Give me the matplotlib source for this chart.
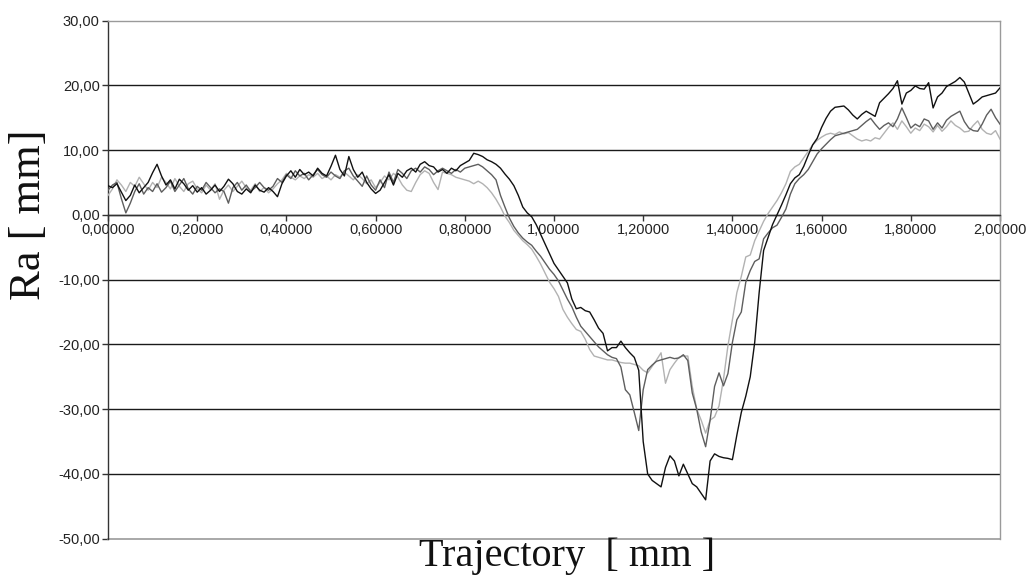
import numpy as np
import matplotlib
matplotlib.use("Agg")
import matplotlib.pyplot as plt
from matplotlib.ticker import FuncFormatter

# trajectory positions [mm]
x_start, x_stop, x_step = 0.0, 2.0, 0.01

# series 1 (black)
ra_black = [
    4.5, 4.2, 4.8, 3.5, 2.2, 3.0, 4.6, 3.4, 4.2, 5.0,
    6.5, 7.8, 6.0, 4.6, 5.4, 4.0, 5.5, 4.8, 3.8, 4.5,
    3.5, 4.2, 3.2, 3.8, 4.6, 3.6, 4.4, 5.5, 4.8, 3.6,
    3.2, 4.0, 3.4, 4.6, 3.8, 3.5, 4.2, 3.6, 2.8, 4.8,
    6.0, 6.8, 5.8, 7.0, 6.2, 6.6, 6.0, 7.2, 6.4, 6.0,
    7.5, 9.2, 7.0, 6.0, 9.0, 7.0, 5.8, 6.6, 5.0, 4.0,
    3.3, 3.8, 5.0, 6.2, 4.6, 6.4, 5.8, 6.8, 7.2, 6.6,
    7.8, 8.2, 7.6, 7.4, 6.6, 7.0, 6.4, 7.2, 6.8, 7.6,
    8.0, 8.4, 9.5, 9.3, 9.0, 8.5, 8.2, 7.8, 7.2, 6.3,
    5.5, 4.5, 3.0, 1.2, 0.3, -0.3, -1.5, -3.0, -4.5, -6.0,
    -7.5, -8.5, -9.5, -10.5, -13.0, -14.5, -14.3, -14.8, -15.0, -16.2,
    -17.5, -18.3, -21.0, -20.5, -20.5, -19.5, -20.5, -21.3, -22.0, -24.0,
    -35.0, -40.0, -41.0, -41.5, -42.0, -39.0, -37.2, -38.0, -40.3, -38.5,
    -40.0, -41.5, -42.0, -43.0, -44.0, -38.0, -36.9, -37.3, -37.5, -37.6,
    -37.8, -34.0, -30.5, -28.0, -25.0, -19.7, -12.0, -5.5, -3.5, -1.5,
    0.0, 1.5, 3.1, 4.8, 5.7, 6.2, 7.5, 9.2, 10.8, 11.8,
    13.5, 14.9, 16.0, 16.6, 16.7, 16.8, 16.2, 15.4, 14.8, 15.5,
    16.0, 15.6, 15.2, 17.3, 18.0, 18.7, 19.5, 20.7, 17.1, 18.8,
    19.2, 19.9, 19.5, 19.4, 20.4, 16.5, 18.2, 18.8, 19.8, 20.2,
    20.6, 21.2, 20.5, 18.8, 17.1, 17.6, 18.2, 18.4, 18.6, 18.8,
    19.6,
]

# series 2 (dark grey)
ra_dark = [
    3.8, 4.6, 5.0, 2.5, 0.3, 1.8, 3.6, 4.8, 3.2, 4.2,
    3.6, 4.8, 3.5, 4.2, 5.2, 3.6, 4.6, 5.6, 4.0, 3.2,
    4.4, 3.8, 5.0, 4.2, 3.4, 4.0, 3.6, 1.8, 4.2, 5.0,
    3.8, 4.6, 3.6, 4.2, 5.0, 4.2, 3.8, 4.4, 5.6, 5.0,
    6.2, 5.6, 6.8, 6.0, 6.4, 5.4, 6.2, 7.0, 6.2, 5.8,
    6.6, 6.0, 5.6, 6.8, 7.2, 6.0, 5.2, 4.4, 6.0, 4.6,
    3.8, 5.4, 4.2, 6.6, 5.0, 7.0, 6.4, 5.6, 6.8, 7.2,
    6.6, 7.4, 7.0, 6.2, 6.8, 7.2, 6.8, 6.4, 7.0, 6.6,
    7.2, 7.4, 7.6, 7.8, 7.4, 6.8, 6.2, 5.4, 3.0, 1.2,
    -0.5, -1.8, -2.8, -3.6, -4.2, -4.7, -5.6, -6.4, -7.4, -8.4,
    -9.2, -10.2, -11.6, -13.0, -14.2, -15.8, -17.2, -18.0, -18.8, -19.6,
    -20.4, -21.0, -21.6, -22.0, -22.2, -23.5, -27.0, -27.8, -30.5, -33.3,
    -27.0, -23.9, -23.2, -22.6, -22.4, -22.2, -22.0, -22.2, -22.1, -21.6,
    -22.5, -27.5, -30.0, -33.5, -35.8, -31.7, -26.5, -24.4, -26.4, -24.5,
    -19.7, -16.2, -15.0, -10.4, -8.6, -7.2, -6.8, -3.7, -2.8, -2.0,
    -1.6, -0.4, 0.9, 3.2, 4.8, 5.6, 6.2, 7.0, 8.2, 9.4,
    10.2, 10.9, 11.6, 12.2, 12.4, 12.6, 12.8, 13.0, 13.2, 13.8,
    14.4, 14.9, 14.0, 13.2, 13.8, 14.2, 13.6, 14.8, 16.5, 15.0,
    13.4, 14.0, 13.6, 14.8, 14.5, 13.2, 14.2, 13.4, 14.6, 15.2,
    15.6, 16.0, 14.4, 13.4, 13.0, 12.9, 14.0, 15.4, 16.3, 15.0,
    14.0,
]

# series 3 (light grey)
ra_light = [
    3.0, 4.0, 5.4, 4.6, 3.6, 5.0, 4.4, 5.8, 4.8, 3.8,
    5.0, 4.2, 5.8, 5.0, 4.0, 5.6, 4.4, 3.6, 4.8, 5.2,
    4.0, 3.4, 4.6, 3.8, 4.8, 2.4, 3.8, 4.6, 3.6, 4.4,
    5.2, 4.2, 3.8, 4.8, 3.6, 4.2, 3.4, 4.0, 4.8, 5.4,
    6.4, 5.8, 5.4, 6.0, 5.6, 6.2, 5.8, 6.4, 5.6, 6.0,
    5.4, 6.2, 5.8, 6.6, 6.0, 5.4, 6.2, 5.6, 4.8, 5.4,
    4.2, 5.0, 6.0, 5.4, 6.4, 5.8, 4.6, 3.8, 3.6, 5.0,
    6.2, 6.8, 6.4, 5.0, 3.9, 6.6, 6.4, 6.2, 5.8, 5.6,
    5.4, 5.2, 4.8, 5.2, 4.8, 4.2, 3.4, 2.4, 1.2, -0.2,
    -1.2, -2.4, -3.2, -4.0, -4.6, -5.3, -6.4, -7.6, -9.0, -10.4,
    -11.4, -12.6, -14.6, -15.8, -16.8, -17.7, -18.0, -19.2, -20.8, -21.8,
    -22.0, -22.2, -22.4, -22.4, -22.6, -22.8, -22.9, -22.9, -23.1, -23.3,
    -24.0, -24.4, -23.4, -22.4, -21.3, -26.0, -23.9, -22.9, -22.0, -21.8,
    -21.8, -26.5, -30.0, -31.7, -33.7, -31.7, -31.2, -29.5, -25.4, -20.2,
    -16.2, -12.0, -9.5, -6.5, -6.2, -4.0, -2.5, -1.0, 0.2, 1.2,
    2.2, 3.4, 4.8, 6.7, 7.4, 7.8, 8.8, 9.8, 10.8, 11.5,
    12.0, 12.4, 12.6, 12.4, 12.8, 12.5, 12.7, 12.2, 11.7, 11.4,
    11.6, 11.4, 11.9, 11.7, 12.6, 13.5, 14.2, 13.2, 14.5, 13.6,
    12.6, 13.4, 13.0, 14.0, 13.6, 12.8, 13.8, 12.9, 13.6, 14.5,
    13.8, 13.4, 12.8, 12.9, 13.8, 14.5, 13.2, 12.6, 12.4, 13.0,
    11.7,
]

y_ticks = [-50, -40, -30, -20, -10, 0, 10, 20, 30]
x_ticks = [0.0, 0.2, 0.4, 0.6, 0.8, 1.0, 1.2, 1.4, 1.6, 1.8, 2.0]

x = np.round(np.arange(len(ra_black)) * x_step + x_start, 4)

fig = plt.figure(figsize=(10.28, 5.76), dpi=100)
W, H = 1028, 576
L, R, T, B = 108, 1000, 20.5, 538.7
ax = fig.add_axes([L / W, 1 - B / H, (R - L) / W, (B - T) / H])

ax.set_xlim(x_start, x_stop)
ax.set_ylim(-50, 30)

# horizontal gridlines
for yv in y_ticks:
    if yv in (-50, 30):
        continue
    ax.axhline(yv, color="#1a1a1a", lw=1.0, zorder=1)

ax.plot(x, ra_light, color="#b2b2b2", lw=1.0, zorder=3)
ax.plot(x, ra_dark, color="#5e5e5e", lw=1.0, zorder=4)
ax.plot(x, ra_black, color="#111111", lw=1.0, zorder=5)

# spines
for s in ("top", "right"):
    ax.spines[s].set_color("#9a9a9a")
    ax.spines[s].set_linewidth(1.0)
ax.spines["left"].set_color("#333333")
ax.spines["left"].set_linewidth(1.0)
ax.spines["bottom"].set_position(("data", 0))
ax.spines["bottom"].set_color("#333333")
ax.spines["bottom"].set_linewidth(1.0)
ax.axhline(-50, color="#9a9a9a", lw=1.2, zorder=2, clip_on=False)

ax.set_yticks(y_ticks)
ax.set_xticks(x_ticks)
ax.yaxis.set_major_formatter(FuncFormatter(lambda v, p: f"{v:.2f}".replace(".", ",")))
ax.xaxis.set_major_formatter(FuncFormatter(lambda v, p: f"{v:.5f}".replace(".", ",")))
ax.tick_params(axis="both", direction="out", length=4, width=1, color="#333333",
               labelsize=10.5, labelcolor="#222222", pad=2)
for lab in ax.get_xticklabels() + ax.get_yticklabels():
    lab.set_fontfamily("Liberation Sans")

fig.text(567 / W, 1 - 566 / H, "Trajectory  [ mm ]", ha="center", va="baseline",
         fontsize=29, family="Liberation Serif", color="#111111")
fig.text(29 / W, 1 - 215 / H, "Ra [ mm]", ha="center", va="center", rotation=90,
         fontsize=32, family="Liberation Serif", color="#111111")

fig.savefig("out.png", dpi=100)
